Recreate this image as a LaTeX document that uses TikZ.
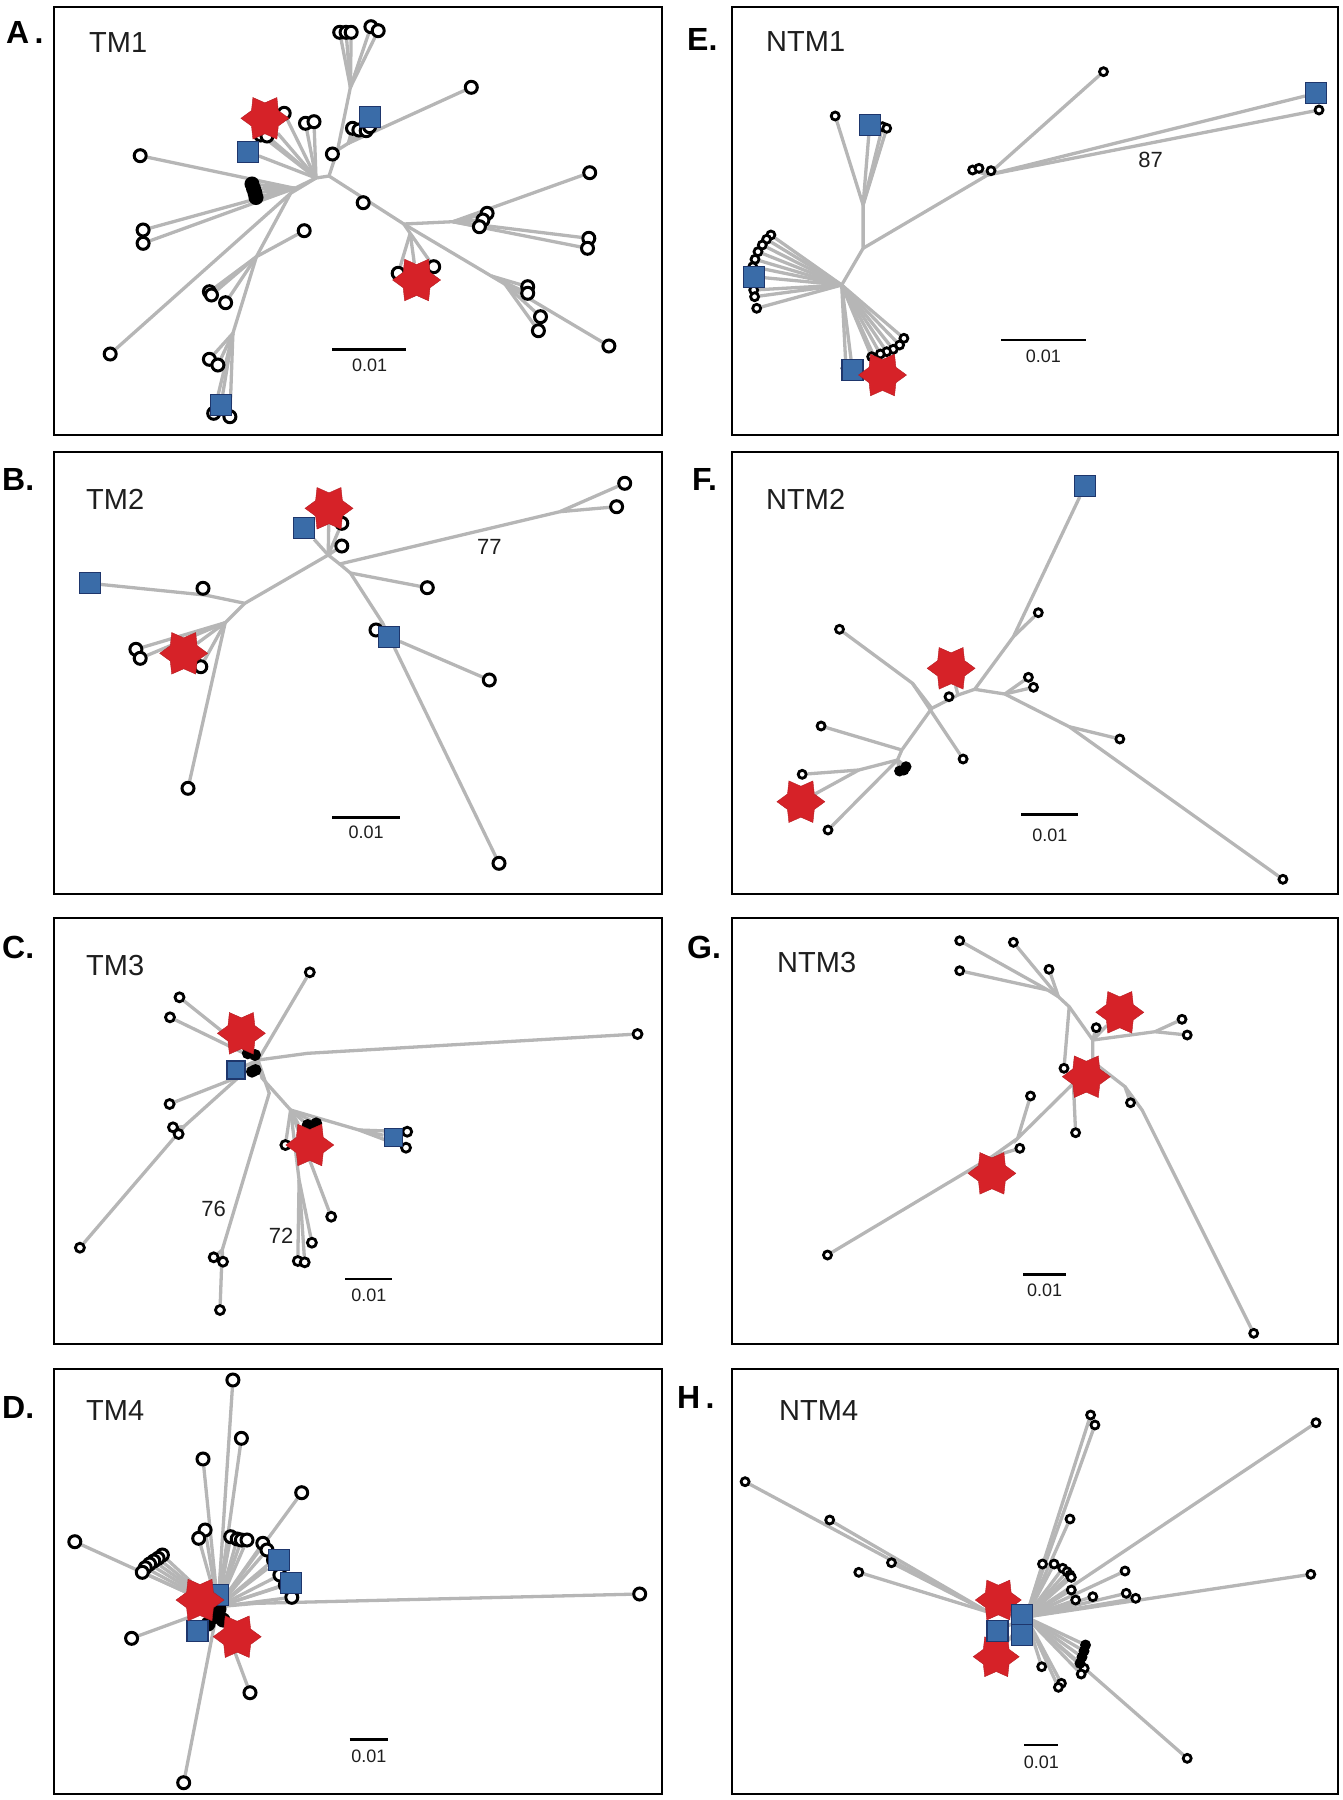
\documentclass[tikz,border=0pt]{standalone}
\usepackage{fontspec}
\setmainfont{Liberation Sans}
\usetikzlibrary{shapes.geometric}
\definecolor{brgray}{RGB}{182,182,182}
\definecolor{sqfill}{RGB}{58,108,168}
\definecolor{sqdraw}{RGB}{30,54,108}
\definecolor{stred}{RGB}{214,34,40}
\definecolor{txt}{RGB}{30,30,30}
\pgfdeclarelayer{bg}\pgfsetlayers{bg,main}
\begin{document}
\begin{tikzpicture}[x=1pt,y=-1pt,
 br/.style={draw=brgray,line width=3.3pt},
 boxst/.style={draw=black,line width=2.2pt},
 lfA/.style={circle,draw=black,fill=white,line width=3pt,minimum size=12pt,inner sep=0pt},
 lfC/.style={circle,draw=black,fill=white,line width=2.8pt,minimum size=9pt,inner sep=0pt},
 lfS/.style={circle,draw=black,fill=white,line width=2.8pt,minimum size=8pt,inner sep=0pt},
 kA/.style={lfA,fill=black},
 kC/.style={lfC,fill=black},
 kS/.style={lfS,fill=black},
 sqn/.style={rectangle,draw=sqdraw,fill=sqfill,line width=1.2pt,minimum size=21pt,inner sep=0pt},
 sqc/.style={sqn,minimum size=18pt},
 starn/.style={star,star points=6,star point ratio=1.55,shape border rotate=90,fill=stred,draw=stred!85!black,line width=0.4pt,minimum size=48pt,inner sep=0pt},
 panlab/.style={font=\fontsize{32}{36}\selectfont\bfseries,text=black,anchor=base west,inner sep=0pt},
 tmlab/.style={font=\fontsize{29}{32}\selectfont,text=txt,anchor=base west,inner sep=0pt},
 numlab/.style={font=\fontsize{22}{24}\selectfont,text=txt,inner sep=0pt},
 sclab/.style={font=\fontsize{18}{20}\selectfont,text=txt,inner sep=0pt},
 scb/.style={draw=black,line width=2.8pt}]
\useasboundingbox (0,0) rectangle (1343,1800);

% ---------- frames ----------
\draw[boxst] (54,7) rectangle (662,435);
\draw[boxst] (732,7) rectangle (1338,435);
\draw[boxst] (54,452) rectangle (662,894);
\draw[boxst] (732,452) rectangle (1338,894);
\draw[boxst] (54,918) rectangle (662,1344);
\draw[boxst] (732,918) rectangle (1338,1344);
\draw[boxst] (54,1369) rectangle (662,1794);
\draw[boxst] (732,1369) rectangle (1338,1794);

% ---------- labels ----------
\node[panlab] (labA) at (6,43) {A\,.};
\node[panlab] (labE) at (687,50) {E.};
\node[panlab] (labB) at (2,490) {B.};
\node[panlab] (labF) at (692,490) {F.};
\node[panlab] (labC) at (2,958) {C.};
\node[panlab] (labG) at (687,958) {G.};
\node[panlab] (labD) at (2,1418) {D.};
\node[panlab] (labH) at (677,1408) {H\,.};
\node[tmlab] (tA) at (89,52.5) {TM1};
\node[tmlab] (tE) at (766,51) {NTM1};
\node[tmlab] (tB) at (86,509) {TM2};
\node[tmlab] (tF) at (766,509) {NTM2};
\node[tmlab] (tC) at (86,975) {TM3};
\node[tmlab] (tG) at (777,972) {NTM3};
\node[tmlab] (tD) at (86,1420) {TM4};
\node[tmlab] (tH) at (779,1420) {NTM4};

% ---------- scale bars ----------
\draw[scb] (332.4,349.3) -- (405.9,349.3);
\node[sclab] (sA) at (369.6,365) {0.01};
\draw[scb] (1001.3,340) -- (1085.5,340);
\node[sclab] (sE) at (1043.4,356) {0.01};
\draw[scb] (332.4,817.3) -- (399.5,817.3);
\node[sclab] (sB) at (366.2,832) {0.01};
\draw[scb] (1021,814.3) -- (1077.7,814.3);
\node[sclab] (sF) at (1049.8,835) {0.01};
\draw[scb] (345.3,1279) -- (392.3,1279);
\node[sclab] (sC) at (368.8,1295) {0.01};
\draw[scb] (1023.2,1274.3) -- (1066.2,1274.3);
\node[sclab] (sG) at (1044.7,1290.7) {0.01};
\draw[scb] (349.5,1739.3) -- (388,1739.3);
\node[sclab] (sD) at (368.8,1756.7) {0.01};
\draw[scb] (1024,1745) -- (1058.4,1745);
\node[sclab] (sH) at (1041.3,1762.7) {0.01};

% ---------- bootstrap numbers ----------
\node[numlab] (n87) at (1150.7,160) {87};
\node[numlab] (n77) at (489.3,547.3) {77};
\node[numlab] (n76) at (213.7,1209.3) {76};
\node[numlab] (n72) at (281.2,1236) {72};

% ================= Panel A =================
\foreach \nm/\x/\y in {aC/316/178,aN1/329/176,aJ4/337.6/150,aJ1/350.4/87.3,aJ2/348.3/143.3,
  aJL/294.8/188.3,aJD1/290.6/193.3,aJD2/256.4/256.7,aJD3/232.9/333.3,aJR/403.8/224,
  aJR2/452.9/221.7,aJS/410.2/233.3,aJR3/491.4/276,aJR4/505/284.2}
  \coordinate (\nm) at (\x,\y);
\foreach \nm/\x/\y in {a1/339.7/32.3,a2/346.1/32.3,a3/351.2/32.3,a4/370.9/26.7,a5/378.2/30.7,
  a6/471.3/87.3,a7/352.5/128.3,a8/358.9/130,a9/366.2/130.7,a10/369.6/126.7,a11/332.4/154,
  a12/284.2/113.3,a13/260.7/135,a14/267/136,a15/305.5/123.3,a16/314/121.7,a17/140.2/155.7,
  a18/143.1/230,a19/143.1/243.3,a20/110.2/354,a21/209.4/291.7,a22/211.5/295,a23/225.6/302.7,
  a24/304.2/230.7,a25/209.4/359.3,a26/217.9/365,a27/213.7/413.3,a28/229.9/416.7,a29/363.2/202.7,
  a30/487.1/213.3,a31/482.9/220,a32/479.4/226.7,a33/589.7/172.7,a34/588.8/238.3,a35/587.5/248.3,
  a36/398.2/273.3,a37/433.7/266.7,a38/527.7/286.7,a39/527.7/293.3,a40/540.5/316.7,a41/538.4/330.7,
  a42/608.9/346}
  \node[lfA] (\nm) at (\x,\y) {};
\foreach \nm/\x/\y in {ak1/252/184,ak2/253.5/188.5,ak3/255/193,ak4/256/197.5}
  \node[kA] (\nm) at (\x,\y) {};
\foreach \nm/\x/\y in {as1/369.6/116.7,as2/247.8/151.7,as3/220.9/405}
  \node[sqn] (\nm) at (\x,\y) {};
\foreach \nm/\x/\y in {ast1/264.9/118.3,ast2/416.6/280}
  \node[starn] (\nm) at (\x,\y) {};

% ================= Panel E =================
\foreach \nm/\x/\y in {eC/841.7/285,eV/863.1/248.3,eT/863.1/205,eM/987.6/175}
  \coordinate (\nm) at (\x,\y);
\foreach \nm/\x/\y in {e1/1103.5/71.7,e2/1319/110,e3/972.6/170,e4/979/168.3,e5/991/170.7,
  e6/835.2/116,e7/882.5/126.7,e8/886.7/128.3,e9/770.9/235,e10/766.6/239.3,e11/762.3/245,
  e12/758/251.7,e13/755/259.3,e14/752.8/266.7,e15/753.7/290,e16/754.6/296.7,e17/756.7/308.3,
  e18/903.9/338.3,e19/899.6/345,e20/893.2/349.3,e21/886.7/351.7,e22/880.3/354,e23/871.7/356.7,
  e24/846/368.3}
  \node[lfS] (\nm) at (\x,\y) {};
\foreach \nm/\x/\y in {es1/1316/93.3,es2/869.6/125,es3/753.7/276.7,es4/852.4/370}
  \node[sqn] (\nm) at (\x,\y) {};
\node[starn] (est1) at (882.5,375) {};

% ================= Panel B =================
\foreach \nm/\x/\y in {bT/328.2/555,bJ2/339.7/564,bJR/559.8/511.7,bJ5/350.4/573,bJB/382/622,
  bJL/244.8/603.3,bJL2/205/595,bJL3/225.2/622.7}
  \coordinate (\nm) at (\x,\y);
\foreach \nm/\x/\y in {b1/341.8/523.3,b2/341.8/546,b3/624.7/483.3,b4/616.6/506.7,b5/427.3/587.7,
  b6/499/863.3,b7/376/630,b8/489.3/680,b9/203/588.3,b10/135.9/649.3,b11/140.2/658.3,
  b12/200.8/666.7,b13/188/788.3}
  \node[lfA] (\nm) at (\x,\y) {};
\foreach \nm/\x/\y in {bs1/304.2/528.3,bs2/388.8/636.7,bs3/89.7/583.3}
  \node[sqn] (\nm) at (\x,\y) {};
\foreach \nm/\x/\y in {bst1/329/508.3,bst2/183.7/653.3}
  \node[starn] (\nm) at (\x,\y) {};

% ================= Panel F =================
\foreach \nm/\x/\y in {fJU/1013.4/636.7,fJ1/974.7/689.3,fJR/1004.8/694,fJR2/1069.2/726.7,
  fT1/958/695,fTR/931.8/708.3,fX/912.5/683.3,fT2/901.8/750,fT3/897.5/760,fJL/858.8/770}
  \coordinate (\nm) at (\x,\y);
\foreach \nm/\x/\y in {f1/1038.3/612.7,f2/949/696.7,f3/1028.4/677.3,f4/1033.5/687.3,
  f5/1119.8/739,f6/1282.9/879.3,f7/839.5/629.3,f8/963.1/759,f9/821.1/726,f10/802.2/774.3,
  f11/828/830}
  \node[lfS] (\nm) at (\x,\y) {};
\foreach \nm/\x/\y in {fk1/899.6/771,fk2/903.9/770,fk3/906/766.7}
  \node[kS] (\nm) at (\x,\y) {};
\node[sqn] (fs1) at (1085,485.7) {};
\foreach \nm/\x/\y in {fst1/951.1/668.3,fst2/800.9/801.7}
  \node[starn] (\nm) at (\x,\y) {};

% ================= Panel C =================
\foreach \nm/\x/\y in {cC/258/1060,cR/307.7/1053.3,cL/239.3/1076.7,cLL/183.7/1126.7,
  cD/269.2/1093.3,cD2/222.2/1250,cB/262/1078,cB2/290.6/1110,cB3/359/1130,cB4/299.1/1180}
  \coordinate (\nm) at (\x,\y);
\foreach \nm/\x/\y in {c1/309.8/972.3,c2/179.5/997.3,c3/170/1017.3,c4/637.5/1034,c5/169.6/1104,
  c6/173/1127.3,c7/178.6/1134,c8/79.9/1247.7,c9/213.7/1257.3,c10/223/1261.7,c11/220/1310,
  c12/407.2/1131.7,c13/406/1147.7,c14/285.4/1145,c15/331.2/1216.7,c16/311.9/1242.7,
  c17/297.8/1261,c18/304.7/1262.3}
  \node[lfC] (\nm) at (\x,\y) {};
\foreach \nm/\x/\y in {ck1/247.8/1053.3,ck2/255/1055,ck3/255.5/1070,ck4/252/1071.7,
  ck5/307.7/1125,ck6/316.2/1123.3}
  \node[kC] (\nm) at (\x,\y) {};
\foreach \nm/\x/\y in {cs1/235.9/1070,cs2/393.1/1137.3}
  \node[sqc] (\nm) at (\x,\y) {};
\foreach \nm/\x/\y in {cst1/241.4/1033.3,cst2/309.8/1145}
  \node[starn] (\nm) at (\x,\y) {};

% ================= Panel G =================
\foreach \nm/\x/\y in {gJ1/1047.7/990,gJ2/1058.4/996.7,gJ3/1069.2/1006.7,gJ4/1092.8/1040,
  gJ5b/1155/1031.7,gJ6/1092.8/1061.7,gJ7/1125/1086.7,gJ8/1142.1/1110,gJ9/1073.4/1083.3,
  gJ10/1017.7/1138.3,gJ11/991.9/1156.7}
  \coordinate (\nm) at (\x,\y);
\foreach \nm/\x/\y in {g1/959.7/940.7,g2/959.7/970.7,g3/1013.4/942.3,g4/1049/969.3,
  g5/1064/1068.3,g6/1096.2/1027.7,g7/1182/1019.3,g8/1187.2/1035,g9/1130.5/1102.7,
  g10/1253.7/1333.3,g11/1075.6/1132.7,g12/1030.5/1096,g13/1019.8/1148.3,g14/827.5/1255}
  \node[lfS] (\nm) at (\x,\y) {};
\foreach \nm/\x/\y in {gst1/1119.8/1012.3,gst2/1086.3/1076.7,gst3/991.9/1173.3}
  \node[starn] (\nm) at (\x,\y) {};

% ================= Panel D =================
\foreach \nm/\x/\y in {dC/217.9/1606.7,dR/256.4/1603.3}
  \coordinate (\nm) at (\x,\y);
\foreach \nm/\x/\y in {d1/232.9/1380,d2/241.4/1438.3,d3/203/1459,d4/301.7/1492.7,d5/205.1/1530,
  d6/198.7/1538.3,d7/230.7/1536.7,d8/237.2/1539,d9/241.4/1540,d10/247/1540,d13/74.8/1541.7,
  d14/162.4/1555,d15/158.1/1558.3,d16/153.8/1561,d17/149.6/1564,d18/145.3/1567.7,
  d19/142.3/1572.3,d20/262.8/1543.3,d21/267/1550,d22/273.5/1560,d23/279.9/1575,
  d24/285.4/1585,d25/291.8/1597.3,d26/639.7/1594,d27/131.6/1638.3,d28/250/1692.7,
  d29/183.7/1782.7}
  \node[lfA] (\nm) at (\x,\y) {};
\foreach \nm/\x/\y in {dk1/213.7/1616.7,dk2/219/1609,dk3/223/1620,dk4/208/1624}
  \node[kA] (\nm) at (\x,\y) {};
\foreach \nm/\x/\y in {ds1/278.6/1560,ds2/290.6/1582.7,ds3/217.9/1595,ds4/197.4/1630.7}
  \node[sqn] (\nm) at (\x,\y) {};
\foreach \nm/\x/\y in {dst1/200/1600,dst2/237.2/1636.7}
  \node[starn] (\nm) at (\x,\y) {};

% ================= Panel H =================
\foreach \nm/\x/\y in {hC/1026/1617,hL/988/1612}
  \coordinate (\nm) at (\x,\y);
\foreach \nm/\x/\y in {h1/745.1/1481.7,h2/829.7/1520,h3/891.5/1562.7,h4/858.8/1572.3,
  h5/1090.6/1415,h6/1094.9/1425,h7/1070/1519,h8/1316/1422.7,h9/1042.5/1564,h10/1054.1/1564,
  h11/1062.7/1568.3,h12/1067/1571.7,h13/1070/1575,h14/1071.3/1577.3,h15/1125/1571,
  h16/1071.3/1590,h17/1075.6/1600,h18/1092.8/1596.7,h19/1126.2/1593.3,h20/1135.7/1598.3,
  h21/1310.8/1574.3,h22/1084.2/1668.3,h23/1081.2/1674,h24/1041.7/1666.7,h25/1061.4/1683.3,
  h26/1058.4/1687.3,h27/1187.2/1758.3}
  \node[lfS] (\nm) at (\x,\y) {};
\foreach \nm/\x/\y in {hk1/1085.5/1645,hk2/1084/1651,hk3/1082/1657,hk4/1080/1663.3}
  \node[kS] (\nm) at (\x,\y) {};
\foreach \nm/\x/\y in {hst1/998.3/1600,hst2/996.2/1656.7}
  \node[starn,minimum size=46pt] (\nm) at (\x,\y) {};
\foreach \nm/\x/\y in {hs1/1021.9/1615,hs2/1021.9/1635,hs3/997.5/1631}
  \node[sqn] (\nm) at (\x,\y) {};

% ================= branches (background) =================
\begin{pgfonlayer}{bg}
% A
\draw[br] (aC)--(aN1)--(aJ4)--(aJ1);
\draw[br] (aJ4)--(aJ2);
\foreach \n in {a1,a2,a3,a4,a5} \draw[br] (aJ1)--(\n);
\foreach \n in {a6,a7,a8,a9,a10,as1} \draw[br] (aJ2)--(\n);
\draw[br] (aJ4)--(a11);
\foreach \n in {ast1,a12,a13,a14,a15,a16,as2} \draw[br] (aC)--(\n);
\draw[br] (aC)--(aJL);
\foreach \n in {a17,ak1,ak2,ak3,ak4,a18,a19} \draw[br] (aJL)--(\n);
\draw[br] (aC)--(aJD1)--(a20);
\draw[br] (aJD1)--(aJD2)--(aJD3);
\foreach \n in {a21,a22,a23,a24} \draw[br] (aJD2)--(\n);
\foreach \n in {a25,a26,as3,a27,a28} \draw[br] (aJD3)--(\n);
\draw[br] (aN1)--(aJR);
\draw[br] (aJR)--(aJR2);
\foreach \n in {a30,a31,a32,a33,a34,a35} \draw[br] (aJR2)--(\n);
\draw[br] (aJR)--(aJS);
\foreach \n in {ast2,a36,a37} \draw[br] (aJS)--(\n);
\draw[br] (aJR)--(a42);
\foreach \n in {a38,a39} \draw[br] (aJR3)--(\n);
\foreach \n in {a40,a41} \draw[br] (aJR4)--(\n);
% E
\draw[br] (eC)--(eV)--(eT);
\draw[br] (eV)--(eM);
\foreach \n in {e1,es1,e2,e3,e4,e5} \draw[br] (eM)--(\n);
\foreach \n in {e6,es2,e7,e8} \draw[br] (eT)--(\n);
\foreach \n in {e9,e10,e11,e12,e13,e14,es3,e15,e16,e17,e18,e19,e20,e21,e22,e23,e24,es4,est1}
  \draw[br] (eC)--(\n);
% B
\foreach \n in {bst1,bs1,b1,b2} \draw[br] (bT)--(\n);
\draw[br] (bT)--(bJ2)--(bJR);
\foreach \n in {b3,b4} \draw[br] (bJR)--(\n);
\draw[br] (bJ2)--(bJ5)--(bJB)--(b6);
\draw[br] (bJ5)--(b5);
\draw[br] (bJB)--(b7);
\draw[br] (bJB)--(bs2)--(b8);
\draw[br] (bT)--(bJL)--(bJL2);
\foreach \n in {b9,bs3} \draw[br] (bJL2)--(\n);
\draw[br] (bJL)--(bJL3);
\foreach \n in {b10,b11,bst2,b12,b13} \draw[br] (bJL3)--(\n);
% F
\draw[br] (fJ1)--(fJU)--(fs1);
\draw[br] (fJU)--(f1);
\draw[br] (fJ1)--(fJR);
\foreach \n in {f3,f4} \draw[br] (fJR)--(\n);
\draw[br] (fJR)--(fJR2)--(f6);
\draw[br] (fJR2)--(f5);
\draw[br] (fJ1)--(fT1)--(fTR)--(fT2)--(fT3);
\draw[br] (fT1)--(fst1);
\draw[br] (fTR)--(fX)--(f7);
\draw[br] (fX)--(f8);
\draw[br] (fT2)--(f9);
\foreach \n in {fk1,fk2,fk3,f11} \draw[br] (fT3)--(\n);
\draw[br] (fT3)--(fJL);
\foreach \n in {f10,fst2} \draw[br] (fJL)--(\n);
% C
\foreach \n in {c1,c2,c3,cst1,cs1,ck1,ck2,ck3,ck4} \draw[br] (cC)--(\n);
\draw[br] (cC)--(cR)--(c4);
\draw[br] (cC)--(cL)--(c5);
\draw[br] (cL)--(cLL);
\foreach \n in {c6,c7,c8} \draw[br] (cLL)--(\n);
\draw[br] (cC)--(cD)--(cD2);
\foreach \n in {c9,c10,c11} \draw[br] (cD2)--(\n);
\draw[br] (cC)--(cB)--(cB2);
\foreach \n in {ck5,ck6,cst2,c14,c15} \draw[br] (cB2)--(\n);
\draw[br] (cB2)--(cB3);
\foreach \n in {cs2,c12,c13} \draw[br] (cB3)--(\n);
\draw[br] (cB2)--(cB4);
\foreach \n in {c16,c17,c18} \draw[br] (cB4)--(\n);
% G
\foreach \n in {g1,g2} \draw[br] (gJ1)--(\n);
\foreach \n in {g3,g4} \draw[br] (gJ2)--(\n);
\draw[br] (gJ1)--(gJ2)--(gJ3)--(gJ4)--(gJ6);
\draw[br] (gJ3)--(g5);
\foreach \n in {g6,gst1} \draw[br] (gJ4)--(\n);
\draw[br] (gJ4)--(gJ5b);
\foreach \n in {g7,g8} \draw[br] (gJ5b)--(\n);
\draw[br] (gJ6)--(gst2);
\draw[br] (gJ6)--(gJ7)--(g9);
\draw[br] (gJ7)--(gJ8)--(g10);
\draw[br] (gJ6)--(gJ9)--(g11);
\draw[br] (gJ9)--(gJ10)--(g12);
\draw[br] (gJ10)--(gJ11);
\foreach \n in {g13,gst3,g14} \draw[br] (gJ11)--(\n);
% D
\foreach \n in {d1,d2,d3,d4,d5,d6,d7,d8,d9,d10,d13,d14,d15,d16,d17,d18,d19,d20,d21,d22,
  d23,d24,d25,d27,d28,d29,ds1,ds2,ds3,ds4,dst1,dst2,dk1,dk2,dk3,dk4} \draw[br] (dC)--(\n);
\draw[br] (dC)--(dR)--(d26);
% H
\foreach \n in {h1,h2,h3,h4} \draw[br] (hL)--(\n);
\draw[br] (hL)--(hC);
\foreach \n in {h5,h6,h7,h8,h9,h10,h11,h12,h13,h14,h15,h16,h17,h18,h19,h20,h21,h22,h23,
  h24,h25,h26,h27,hk1,hk2,hk3,hk4,hs1,hs2,hs3,hst1,hst2} \draw[br] (hC)--(\n);
\end{pgfonlayer}
\end{tikzpicture}
\end{document}
